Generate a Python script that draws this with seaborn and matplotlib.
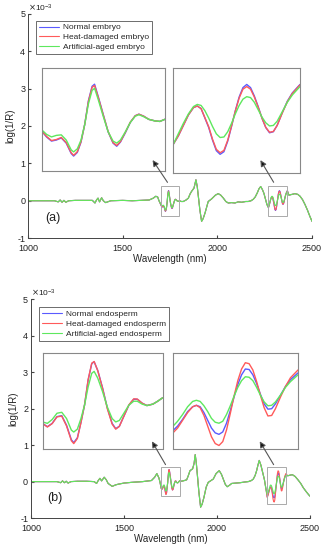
import numpy as np
import pandas as pd
import matplotlib
matplotlib.use('Agg')
import matplotlib.pyplot as plt
import seaborn as sns
from matplotlib.patches import Rectangle, FancyArrowPatch

# ---- data (log(1/R), units of 1e-3) ----
# shared baseline outside the zoomed windows, panel (a) embryo
base_wl_a = [1000, 1050, 1100, 1140, 1160, 1170, 1180, 1190, 1200, 1215, 1250, 1300, 1340,
             1354, 1362, 1370, 1378, 1389, 1398, 1410, 1437, 1500, 1550, 1600, 1640, 1662,
             1675, 1685, 1692,
             1810, 1820, 1835, 1847, 1856, 1864, 1877, 1887, 1894, 1900, 1908, 1917, 1925,
             1935, 1952, 1970, 1990, 2005, 2018, 2032, 2045, 2058, 2075, 2093, 2110, 2129,
             2150, 2163, 2178, 2190, 2200, 2211, 2220, 2229, 2238, 2246, 2254, 2262,
             2378, 2395, 2410, 2425, 2437, 2450, 2463, 2476, 2489, 2500]
base_val_a = [0.0, 0.0, 0.0, 0.0, -0.03, 0.02, -0.04, 0.01, -0.04, 0.0, 0.01, 0.01, 0.01,
              -0.06, 0.02, 0.07, -0.03, 0.08, 0.0, -0.05, 0.0, 0.01, 0.0, 0.01, 0.02, 0.07,
              0.12, 0.1, 0.0,
              -0.02, -0.02, 0.02, 0.07, 0.18, 0.25, 0.34, 0.56, 0.38, 0.12, -0.25, -0.55, -0.48,
              -0.33, -0.02, 0.05, 0.15, 0.19, 0.15, 0.07, -0.02, -0.06, -0.05, -0.06, -0.03, -0.04,
              -0.02, -0.02, 0.0, 0.04, 0.1, 0.21, 0.32, 0.38, 0.3, 0.2, 0.05, -0.1,
              0.15, 0.17, 0.19, 0.17, 0.12, 0.03, -0.1, -0.25, -0.42, -0.55]

# shared baseline, panel (b) endosperm
base_wl_b = [1000, 1050, 1100, 1140, 1160, 1170, 1180, 1190, 1200, 1215, 1250, 1300, 1340,
             1353, 1362, 1371, 1380, 1394, 1405, 1415, 1437, 1455, 1470, 1500, 1541, 1600,
             1648, 1665, 1677, 1688, 1694,
             1810, 1825, 1837, 1845, 1855, 1869, 1877, 1883, 1889, 1894, 1903, 1912, 1920,
             1930, 1942, 1953, 1980, 1995, 2012, 2024, 2034, 2045, 2055, 2067, 2079, 2100,
             2124, 2150, 2168, 2185, 2195, 2205, 2213, 2220, 2227, 2236, 2245, 2255, 2263,
             2380, 2395, 2405, 2420, 2435, 2450, 2464, 2480, 2496, 2500]
base_val_b = [0.0, 0.0, 0.0, 0.0, -0.03, 0.02, -0.03, 0.01, -0.04, 0.0, 0.01, 0.01, 0.0,
              -0.05, 0.03, 0.09, 0.02, 0.12, 0.05, -0.05, -0.13, -0.09, -0.07, -0.04, -0.02, 0.0,
              0.03, 0.12, 0.22, 0.1, -0.02,
              0.01, 0.03, 0.05, 0.15, 0.3, 0.35, 0.5, 0.74, 0.5, 0.21, -0.3, -0.7, -0.62,
              -0.43, -0.15, -0.02, 0.07, 0.22, 0.3, 0.2, 0.07, -0.08, -0.14, -0.1, -0.05, -0.04,
              -0.03, -0.01, 0.0, 0.03, 0.07, 0.17, 0.3, 0.45, 0.58, 0.45, 0.26, 0.05, -0.2,
              0.16, 0.18, 0.19, 0.14, 0.05, -0.05, -0.17, -0.28, -0.38, -0.4]

# window 1 (1700-1800 nm)
win1_wl = [1700, 1704, 1708, 1712, 1716, 1720, 1724, 1726, 1729, 1732, 1735, 1738, 1741, 1743,
           1746, 1750, 1754, 1758, 1761, 1764, 1768, 1772, 1776, 1779, 1783, 1787, 1792, 1796, 1800]
normal_w1_a = [-0.09, -0.136, -0.168, -0.16, -0.144, -0.184, -0.264, -0.284, -0.256, -0.176, -0.04,
               0.144, 0.256, 0.272, 0.176, 0.04, -0.096, -0.184, -0.208, -0.176, -0.104, -0.024,
               0.028, 0.04, 0.024, 0.0, -0.012, -0.016, 0.0]
heat_w1_a = [-0.088, -0.132, -0.164, -0.156, -0.14, -0.18, -0.258, -0.278, -0.25, -0.172, -0.04,
             0.138, 0.248, 0.262, 0.17, 0.036, -0.094, -0.18, -0.202, -0.172, -0.1, -0.022,
             0.028, 0.04, 0.024, 0.0, -0.012, -0.016, 0.0]
aged_w1_a = [-0.08, -0.116, -0.136, -0.124, -0.12, -0.16, -0.236, -0.252, -0.228, -0.16, -0.04,
             0.12, 0.224, 0.24, 0.152, 0.024, -0.096, -0.168, -0.184, -0.16, -0.096, -0.024,
             0.024, 0.036, 0.02, 0.0, -0.012, -0.016, 0.0]
normal_w1_b = [-0.184, -0.212, -0.184, -0.128, -0.12, -0.2, -0.32, -0.344, -0.304, -0.176, -0.032,
               0.176, 0.312, 0.328, 0.256, 0.112, -0.056, -0.184, -0.228, -0.208, -0.12, -0.032,
               0.016, 0.016, -0.016, -0.036, -0.024, 0.0, 0.028]
heat_w1_b = [-0.186, -0.214, -0.186, -0.13, -0.124, -0.206, -0.328, -0.352, -0.31, -0.178, -0.03,
             0.18, 0.316, 0.33, 0.254, 0.108, -0.062, -0.19, -0.232, -0.21, -0.12, -0.03,
             0.02, 0.018, -0.016, -0.036, -0.024, 0.0, 0.028]
aged_w1_b = [-0.172, -0.184, -0.152, -0.1, -0.092, -0.144, -0.24, -0.256, -0.232, -0.144, -0.032,
             0.12, 0.232, 0.248, 0.192, 0.08, -0.048, -0.144, -0.172, -0.16, -0.096, -0.032,
             0.0, 0.0, -0.024, -0.036, -0.024, 0.0, 0.028]

# window 2 (2270-2370 nm)
win2_wl = [2270, 2274, 2278, 2282, 2286, 2289, 2292, 2295, 2298, 2301, 2304, 2307, 2310, 2313,
           2316, 2319, 2322, 2325, 2328, 2331, 2334, 2337, 2340, 2343, 2346, 2349, 2352, 2356,
           2360, 2364, 2370]
normal_w2_a = [-0.184, -0.12, -0.04, 0.04, 0.096, 0.108, 0.088, 0.016, -0.056, -0.152, -0.232,
               -0.26, -0.24, -0.16, -0.048, 0.072, 0.176, 0.248, 0.272, 0.248, 0.184, 0.104,
               0.016, -0.056, -0.096, -0.088, -0.04, 0.056, 0.144, 0.208, 0.272]
heat_w2_a = [-0.184, -0.12, -0.04, 0.04, 0.096, 0.108, 0.088, 0.018, -0.05, -0.145, -0.222,
             -0.248, -0.23, -0.152, -0.044, 0.07, 0.168, 0.236, 0.256, 0.236, 0.176, 0.1,
             0.016, -0.054, -0.092, -0.086, -0.04, 0.054, 0.14, 0.204, 0.268]
aged_w2_a = [-0.184, -0.104, -0.024, 0.048, 0.104, 0.12, 0.112, 0.072, 0.016, -0.048, -0.104,
             -0.132, -0.128, -0.088, -0.024, 0.048, 0.112, 0.16, 0.179, 0.172, 0.136, 0.08,
             0.024, -0.02, -0.044, -0.04, -0.008, 0.064, 0.136, 0.192, 0.256]
normal_w2_b = [-0.41, -0.36, -0.29, -0.21, -0.16, -0.145, -0.16, -0.22, -0.30, -0.38, -0.43,
               -0.445, -0.42, -0.33, -0.20, -0.06, 0.07, 0.17, 0.23, 0.225, 0.17, 0.08,
               -0.03, -0.13, -0.185, -0.18, -0.13, -0.04, 0.05, 0.12, 0.19]
heat_w2_b = [-0.434, -0.38, -0.30, -0.22, -0.16, -0.145, -0.17, -0.25, -0.36, -0.47, -0.54,
             -0.56, -0.52, -0.40, -0.23, -0.05, 0.11, 0.23, 0.295, 0.285, 0.22, 0.10,
             -0.04, -0.17, -0.255, -0.25, -0.18, -0.06, 0.05, 0.14, 0.22]
aged_w2_b = [-0.366, -0.31, -0.24, -0.16, -0.105, -0.093, -0.105, -0.15, -0.21, -0.28, -0.32,
             -0.33, -0.31, -0.24, -0.15, -0.05, 0.04, 0.11, 0.15, 0.145, 0.11, 0.04,
             -0.04, -0.11, -0.15, -0.145, -0.11, -0.04, 0.04, 0.10, 0.17]

labels_a = ['Normal embryo', 'Heat-damaged embryo', 'Artificial-aged embryo']
labels_b = ['Normal endosperm', 'Heat-damaged endosperm', 'Artificial-aged endosperm']
colors = ['#5a5aff', '#ff5a5a', '#5ee85e']

sns.set_style('ticks')
plt.rcParams['font.family'] = ['Liberation Sans', 'DejaVu Sans']
plt.rcParams['axes.unicode_minus'] = False


def build(base_wl, base_val, w1, w2):
    wl = np.array(base_wl + win1_wl + win2_wl, dtype=float)
    val = np.array(base_val + w1 + w2, dtype=float)
    order = np.argsort(wl)
    return pd.DataFrame({'wl': wl[order], 'val': val[order]})


def draw_panel(fig, rect, base_wl, base_val, win1, win2, labels, tag,
               box2_y, leg_anchor, inset_rects, arrows):
    ax = fig.add_axes(rect)
    frames = [build(base_wl, base_val, win1[i], win2[i]) for i in range(3)]
    for df, c, lab in zip(frames, colors, labels):
        sns.lineplot(data=df, x='wl', y='val', ax=ax, color=c, lw=0.8,
                     label=lab, estimator=None, sort=False)
    ax.set_xlim(1000, 2500)
    ax.set_ylim(-1, 5)
    ax.set_xticks([1000, 1500, 2000, 2500])
    ax.set_yticks([-1, 0, 1, 2, 3, 4, 5])
    ax.tick_params(direction='in', length=2.5, labelsize=6.5, color='#444',
                   labelcolor='#222', pad=2)
    ax.tick_params(axis='x', pad=4)
    sns.despine(ax=ax)
    for s in ['left', 'bottom']:
        ax.spines[s].set_color('#444')
        ax.spines[s].set_linewidth(0.7)
    ax.set_xlabel('Wavelength (nm)', fontsize=7, labelpad=1)
    ax.set_ylabel('log(1/R)', fontsize=7, labelpad=1)
    ax.text(0.0, 1.0, r'$\times\mathregular{10^{-3}}$', transform=ax.transAxes,
            ha='left', va='bottom', fontsize=6, color='#222')
    ax.text(1090, -0.45, tag, fontsize=9, ha='left', va='center', color='#222')

    leg = ax.legend(loc='upper left', bbox_to_anchor=leg_anchor, borderaxespad=0,
                    fontsize=6, frameon=True, fancybox=False, framealpha=1,
                    edgecolor='#555', handlelength=2.4, handletextpad=0.5,
                    labelspacing=0.25, borderpad=0.35)
    leg.get_frame().set_linewidth(0.6)

    # small boxes marking the zoomed windows
    ax.add_patch(Rectangle((1700, -0.4), 100, 0.8, fill=False, ec='#aaaaaa', lw=0.7, zorder=4))
    ax.add_patch(Rectangle((2270, box2_y[0]), 100, box2_y[1] - box2_y[0], fill=False,
                           ec='#aaaaaa', lw=0.7, zorder=4))

    # insets
    lims = [((1700, 1800), (-0.4, 0.4)), ((2270, 2370), box2_y)]
    for r, (xl, yl) in zip(inset_rects, lims):
        ia = fig.add_axes(r)
        for df, c in zip(frames, colors):
            sns.lineplot(data=df, x='wl', y='val', ax=ia, color=c, lw=1.0,
                         estimator=None, sort=False)
        ia.set_xlim(*xl)
        ia.set_ylim(*yl)
        ia.set_xticks([])
        ia.set_yticks([])
        ia.set_xlabel('')
        ia.set_ylabel('')
        for s in ia.spines.values():
            s.set_visible(True)
            s.set_linestyle((0, (1, 1)))
            s.set_color('#888')
            s.set_linewidth(0.8)

    for start, end in arrows:
        fig.add_artist(FancyArrowPatch(start, end, transform=ax.transData,
                                       arrowstyle='-|>', mutation_scale=9, lw=0.8,
                                       color='#555', fc='#111', zorder=6))
    return ax


fig = plt.figure(figsize=(3.25, 5.5), dpi=100)

draw_panel(fig, [0.086, 0.567, 0.874, 0.408], base_wl_a, base_val_a,
           [normal_w1_a, heat_w1_a, aged_w1_a], [normal_w2_a, heat_w2_a, aged_w2_a],
           labels_a, '(a)', (-0.4, 0.4), (0.028, 0.969),
           [[0.128, 0.689, 0.379, 0.188], [0.533, 0.686, 0.390, 0.191]],
           [((1745, 0.43), (1650, 1.15)), ((2305, 0.43), (2220, 1.15))])

draw_panel(fig, [0.095, 0.058, 0.859, 0.398], base_wl_b, base_val_b,
           [normal_w1_b, heat_w1_b, aged_w1_b], [normal_w2_b, heat_w2_b, aged_w2_b],
           labels_b, '(b)', (-0.6, 0.4), (0.029, 0.963),
           [[0.131, 0.183, 0.369, 0.175], [0.531, 0.183, 0.386, 0.176]],
           [((1731, 0.4), (1643, 1.17)), ((2312, 0.4), (2222, 1.17))])

fig.savefig('out.png', dpi=100)
